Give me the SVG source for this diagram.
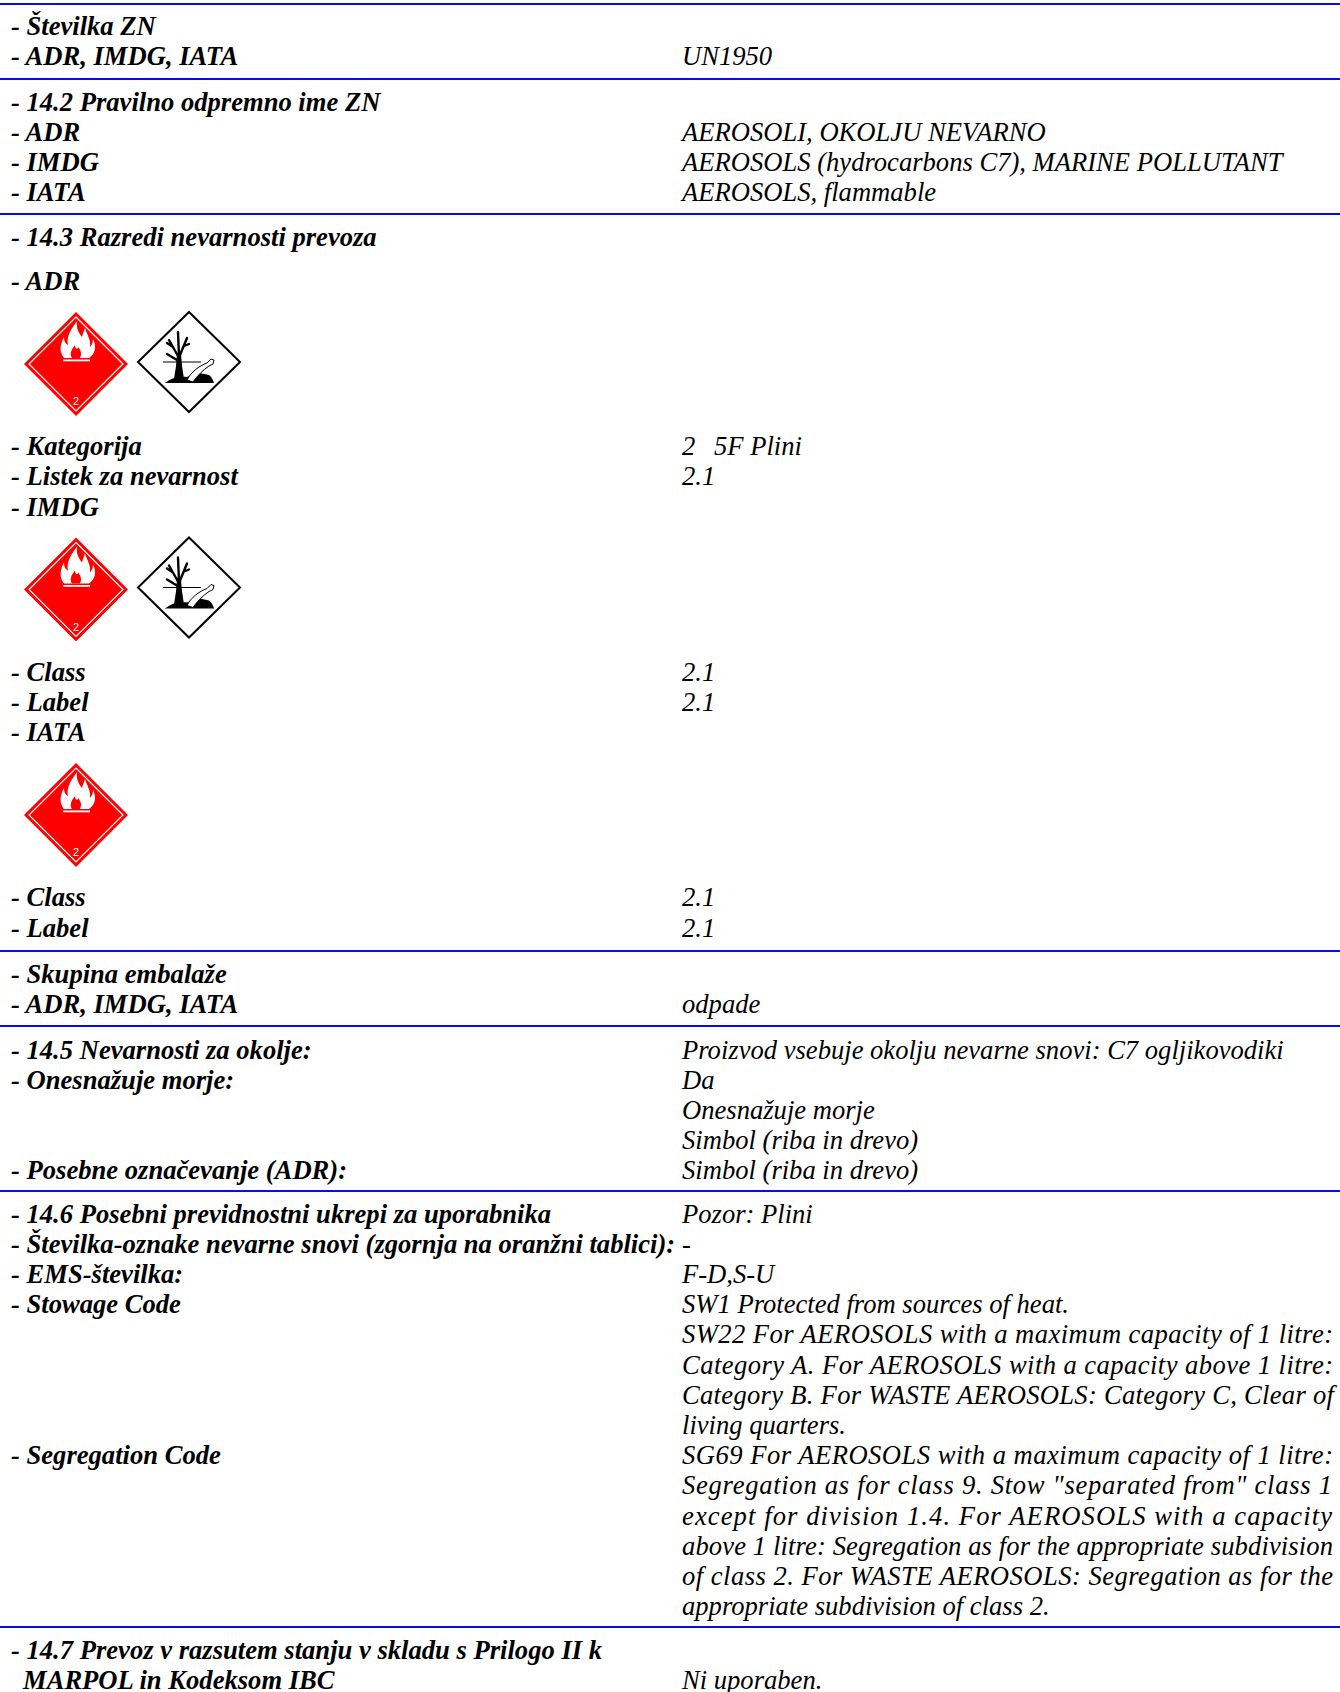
<svg xmlns="http://www.w3.org/2000/svg" xmlns:xlink="http://www.w3.org/1999/xlink" width="1340" height="1692" viewBox="0 0 1340 1692">
<style>
.l{font-family:"Liberation Serif","Times New Roman",serif;font-size:26.6px;font-style:italic;font-weight:bold;fill:#000}
.r{font-family:"Liberation Serif","Times New Roman",serif;font-size:26.6px;font-style:italic;fill:#000}
.sep{stroke:#0a0aee;stroke-width:2}
</style>
<defs>
<symbol id="flam" viewBox="-54 -54 108 108" width="108" height="108" overflow="visible">
<polygon points="0,-52 52,0 0,52 -52,0" fill="#ff0000"/>
<polygon points="0,-47 47,0 0,47 -47,0" fill="none" stroke="#ffffff" stroke-width="1.2"/>
<path d="M -12,-6 C -17,-12 -16,-20 -12,-27 C -12,-22 -10,-20 -8,-19 C -10,-28 -4,-36 1,-43 C 0,-35 3,-31 6,-27 C 7,-31 8,-33 9,-36 C 11,-29 15,-25 14,-17 C 16,-19 17,-22 17,-25 C 21,-17 19,-10 13,-6 Z" fill="#ffffff"/>
<path d="M -4,-6 C -7,-11 -4,-15 -1,-19 C -1,-15 2,-14 2,-17 C 5,-14 6,-10 4,-6 Z" fill="#ff0000"/>
<rect x="-13" y="-4.5" width="27" height="1.8" fill="#ffffff"/>
<text x="0" y="41" font-family="Liberation Sans, Arial, sans-serif" font-size="11" fill="#ffffff" text-anchor="middle">2</text>
</symbol>
<symbol id="env" viewBox="-54 -54 108 108" width="108" height="108" overflow="visible">
<polygon points="0,-50 51,0 0,50 -51,0" fill="#ffffff" stroke="#000000" stroke-width="2"/>
<line x1="-26" y1="0" x2="12" y2="0" stroke="#000" stroke-width="1"/>
<path d="M -15,17 L -13,4 L -12,-8 L -8,-8 L -7,4 L -5,17 Z" fill="#000"/>
<path d="M -11,-6 L -20,-22 M -10,-6 L -11,-30 M -9,-7 L -2,-24 M -12,-2 L -22,-8 M -16,-15 L -22,-19 M -5,-16 L 0,-18" stroke="#000" stroke-width="2.4" stroke-linecap="round" fill="none"/>
<path d="M -24,21 C -18,16 -10,14 -2,15 L 4,12 C 10,10 16,12 20,13 C 23,15 24,18 25,21 Z" fill="#000"/>
<path d="M -2,18 C 2,10 10,4 18,1 L 22,-3 L 25,-2 L 24,2 L 20,4 C 14,8 8,14 4,20 Z" fill="#ffffff" stroke="#000" stroke-width="1"/>
</symbol>
</defs>

<g id="connectors">
<line class="sep" x1="0" y1="4" x2="1340" y2="4"/>
<line class="sep" x1="0" y1="79" x2="1340" y2="79"/>
<line class="sep" x1="0" y1="214" x2="1340" y2="214"/>
<line class="sep" x1="0" y1="951" x2="1340" y2="951"/>
<line class="sep" x1="0" y1="1026" x2="1340" y2="1026"/>
<line class="sep" x1="0" y1="1191" x2="1340" y2="1191"/>
<line class="sep" x1="0" y1="1627" x2="1340" y2="1627"/>
</g>

<g id="s141">
<text class="l" x="11" y="35">- Številka ZN</text>
<text class="l" x="11" y="65">- ADR, IMDG, IATA</text>
<text class="r" x="682" y="65">UN1950</text>
</g>

<g id="s142">
<text class="l" x="11" y="110.5">- 14.2 Pravilno odpremno ime ZN</text>
<text class="l" x="11" y="140.7">- ADR</text>
<text class="r" x="682" y="140.7">AEROSOLI, OKOLJU NEVARNO</text>
<text class="l" x="11" y="170.9">- IMDG</text>
<text class="r" x="682" y="170.9">AEROSOLS (hydrocarbons C7), MARINE POLLUTANT</text>
<text class="l" x="11" y="201">- IATA</text>
<text class="r" x="682" y="201">AEROSOLS, flammable</text>
</g>

<g id="s143">
<text class="l" x="11" y="246">- 14.3 Razredi nevarnosti prevoza</text>
<text class="l" x="11" y="290">- ADR</text>
<use xlink:href="#flam" x="22" y="310"/>
<use xlink:href="#env" x="135" y="308"/>
<text class="l" x="11" y="455">- Kategorija</text>
<text class="r" x="682" y="455">2<tspan x="714">5F Plini</tspan></text>
<text class="l" x="11" y="485.4">- Listek za nevarnost</text>
<text class="r" x="682" y="485.4">2.1</text>
<text class="l" x="11" y="515.6">- IMDG</text>
<use xlink:href="#flam" x="22" y="535.5"/>
<use xlink:href="#env" x="135" y="533.5"/>
<text class="l" x="11" y="681">- Class</text>
<text class="r" x="682" y="681">2.1</text>
<text class="l" x="11" y="711">- Label</text>
<text class="r" x="682" y="711">2.1</text>
<text class="l" x="11" y="741">- IATA</text>
<use xlink:href="#flam" x="22" y="761"/>
<text class="l" x="11" y="906">- Class</text>
<text class="r" x="682" y="906">2.1</text>
<text class="l" x="11" y="936.5">- Label</text>
<text class="r" x="682" y="936.5">2.1</text>
</g>

<g id="s144">
<text class="l" x="11" y="982.5">- Skupina embalaže</text>
<text class="l" x="11" y="1012.7">- ADR, IMDG, IATA</text>
<text class="r" x="682" y="1012.7">odpade</text>
</g>

<g id="s145">
<text class="l" x="11" y="1058.5">- 14.5 Nevarnosti za okolje:</text>
<text class="r" x="682" y="1058.5">Proizvod vsebuje okolju nevarne snovi: C7 ogljikovodiki</text>
<text class="l" x="11" y="1088.7">- Onesnažuje morje:</text>
<text class="r" x="682" y="1088.7">Da</text>
<text class="r" x="682" y="1118.9">Onesnažuje morje</text>
<text class="r" x="682" y="1149.1">Simbol (riba in drevo)</text>
<text class="l" x="11" y="1179.3">- Posebne označevanje (ADR):</text>
<text class="r" x="682" y="1179.3">Simbol (riba in drevo)</text>
</g>

<g id="s146">
<text class="l" x="11" y="1222.5">- 14.6 Posebni previdnostni ukrepi za uporabnika</text>
<text class="r" x="682" y="1222.5">Pozor: Plini</text>
<text class="l" x="11" y="1252.7">- Številka-oznake nevarne snovi (zgornja na oranžni tablici):</text>
<text class="r" x="682" y="1252.7">-</text>
<text class="l" x="11" y="1282.9">- EMS-številka:</text>
<text class="r" x="682" y="1282.9">F-D,S-U</text>
<text class="l" x="11" y="1313.1">- Stowage Code</text>
<text class="r" x="682" y="1313.1">SW1 Protected from sources of heat.</text>
<text class="r" x="682" y="1343.3" textLength="651" lengthAdjust="spacing">SW22 For AEROSOLS with a maximum capacity of 1 litre:</text>
<text class="r" x="682" y="1373.5" textLength="651" lengthAdjust="spacing">Category A. For AEROSOLS with a capacity above 1 litre:</text>
<text class="r" x="682" y="1403.7" textLength="652" lengthAdjust="spacing">Category B. For WASTE AEROSOLS: Category C, Clear of</text>
<text class="r" x="682" y="1433.9">living quarters.</text>
<text class="l" x="11" y="1464.1">- Segregation Code</text>
<text class="r" x="682" y="1464.1" textLength="651" lengthAdjust="spacing">SG69 For AEROSOLS with a maximum capacity of 1 litre:</text>
<text class="r" x="682" y="1494.3" textLength="650" lengthAdjust="spacing">Segregation as for class 9. Stow "separated from" class 1</text>
<text class="r" x="682" y="1524.5" textLength="650" lengthAdjust="spacing">except for division 1.4. For AEROSOLS with a capacity</text>
<text class="r" x="682" y="1554.7" textLength="651" lengthAdjust="spacing">above 1 litre: Segregation as for the appropriate subdivision</text>
<text class="r" x="682" y="1584.9" textLength="651" lengthAdjust="spacing">of class 2. For WASTE AEROSOLS: Segregation as for the</text>
<text class="r" x="682" y="1615.1">appropriate subdivision of class 2.</text>
</g>

<g id="s147">
<text class="l" x="11" y="1659">- 14.7 Prevoz v razsutem stanju v skladu s Prilogo II k</text>
<text class="l" x="23" y="1688.5">MARPOL in Kodeksom IBC</text>
<text class="r" x="682" y="1688.5">Ni uporaben.</text>
</g>
</svg>
